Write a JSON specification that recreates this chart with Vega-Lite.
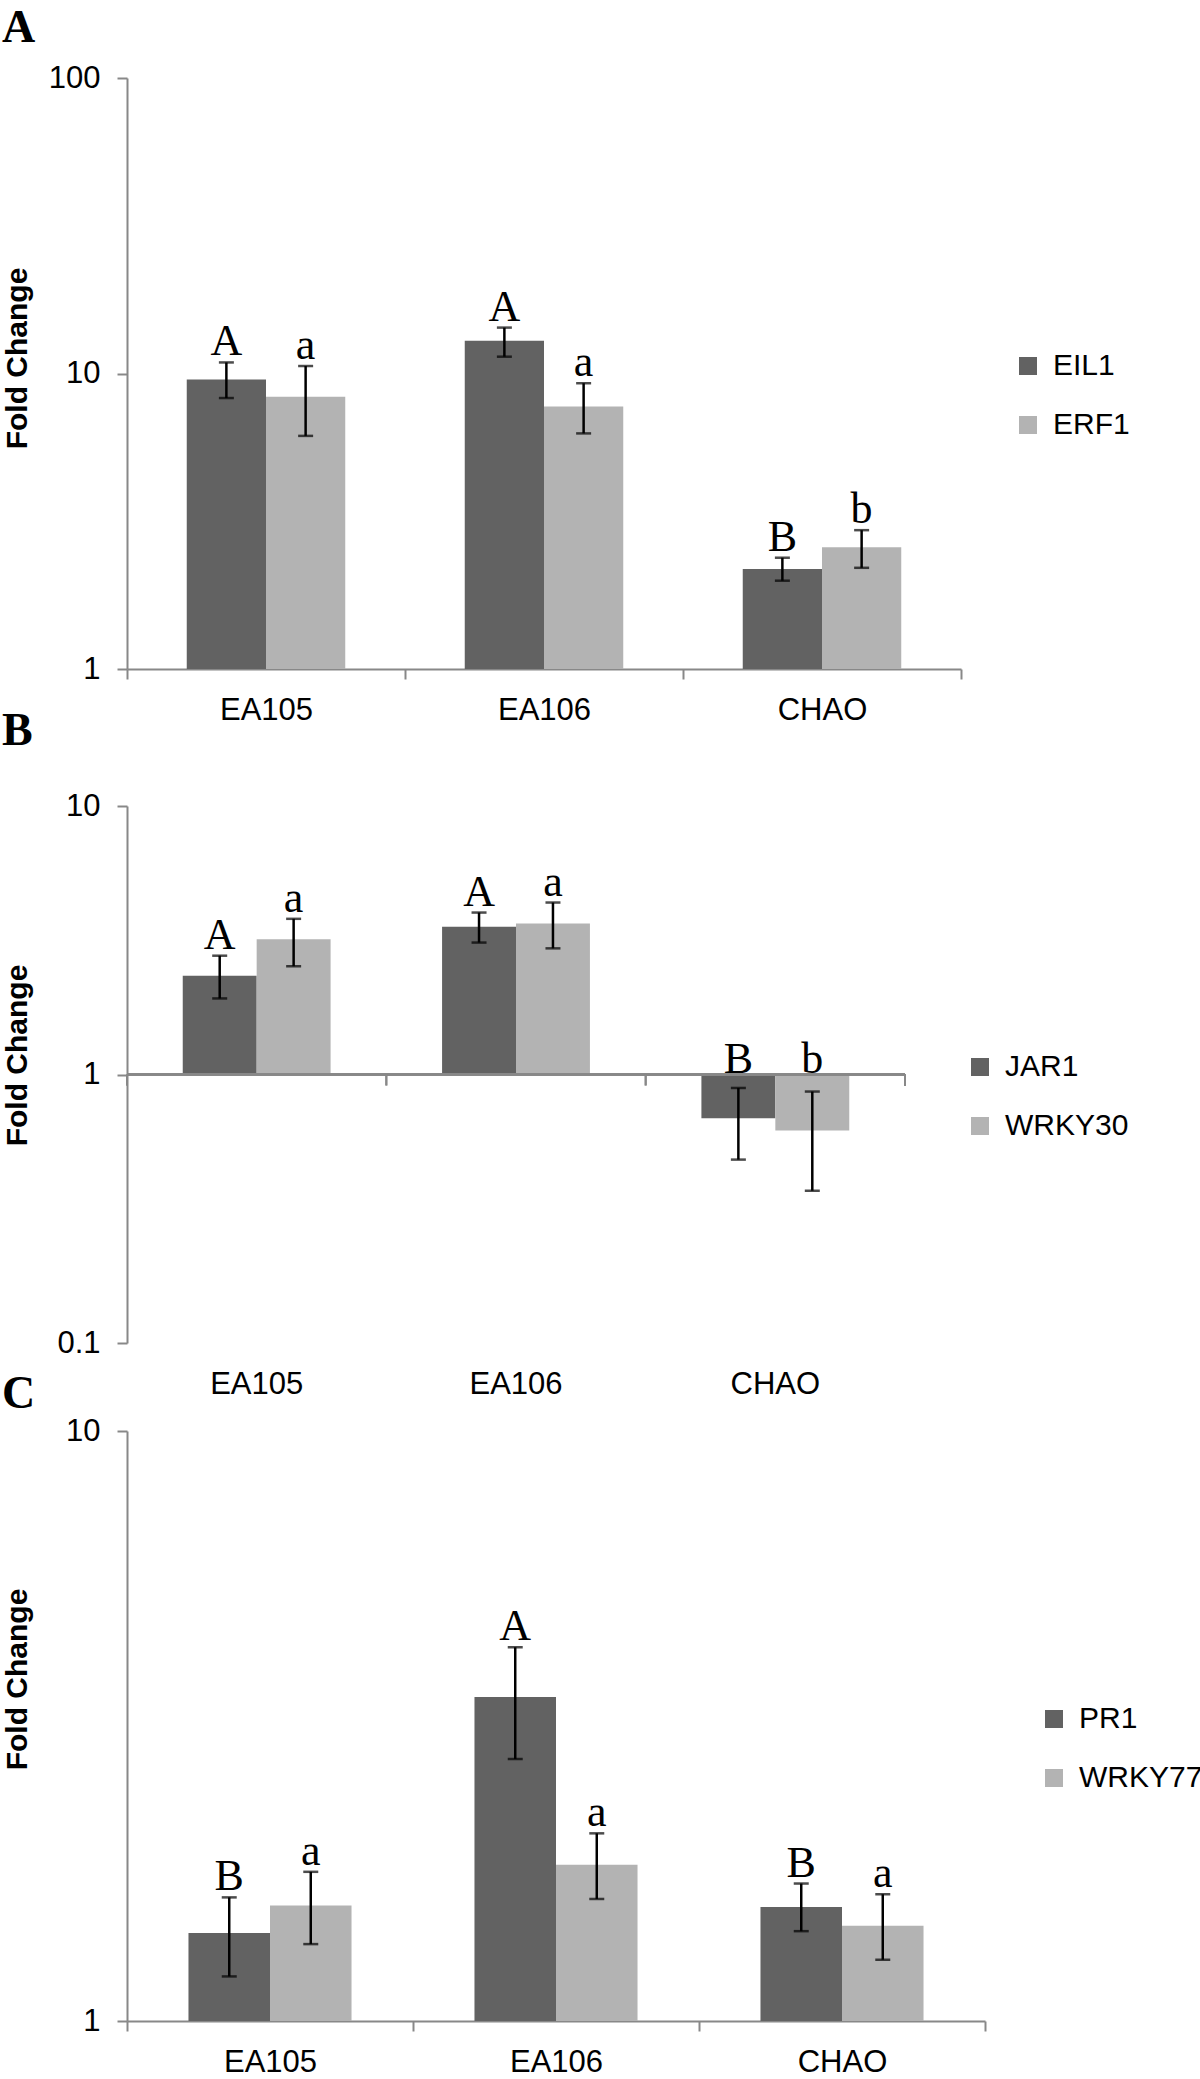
{
  "$schema": "https://vega.github.io/schema/vega-lite/v6.json",
  "padding": {"left": 2, "top": 5, "right": 0, "bottom": 0},
  "background": "white",
  "config": {
    "view": {"stroke": null},
    "font": "Liberation Sans",
    "axis": {"domainColor": "#888888", "domainWidth": 2, "tickColor": "#888888", "tickWidth": 2, "tickSize": 10, "labelFontSize": 31, "labelColor": "black", "labelFont": "Liberation Sans", "grid": false, "titleFont": "Liberation Sans", "titleFontSize": 30, "titleFontWeight": "bold", "titleColor": "black"},
    "axisY": {"labelPadding": 17},
    "axisX": {"labelPadding": 16, "labelAngle": 0},
    "legend": {"labelFontSize": 30, "labelFont": "Liberation Sans", "labelColor": "black", "symbolType": "square", "symbolSize": 324, "symbolStrokeWidth": 0, "rowPadding": 29, "labelOffset": 10, "padding": 0},
    "title": {"font": "Liberation Serif", "fontSize": 46, "fontWeight": "bold", "anchor": "start", "frame": "bounds", "color": "black"}
  },
  "datasets": {
    "A": [
      {"sample": "EA105", "gene": "EIL1", "value": 9.55, "lo": 8.26, "hi": 10.9, "letter": "A"},
      {"sample": "EA105", "gene": "ERF1", "value": 8.35, "lo": 6.15, "hi": 10.6, "letter": "a"},
      {"sample": "EA106", "gene": "EIL1", "value": 12.9, "lo": 11.4, "hi": 14.3, "letter": "A"},
      {"sample": "EA106", "gene": "ERF1", "value": 7.73, "lo": 6.27, "hi": 9.27, "letter": "a"},
      {"sample": "CHAO", "gene": "EIL1", "value": 2.18, "lo": 1.99, "hi": 2.38, "letter": "B"},
      {"sample": "CHAO", "gene": "ERF1", "value": 2.58, "lo": 2.2, "hi": 2.95, "letter": "b"}
    ],
    "B": [
      {"sample": "EA105", "gene": "JAR1", "value": 2.33, "lo": 1.92, "hi": 2.77, "letter": "A"},
      {"sample": "EA105", "gene": "WRKY30", "value": 3.19, "lo": 2.53, "hi": 3.8, "letter": "a"},
      {"sample": "EA106", "gene": "JAR1", "value": 3.55, "lo": 3.1, "hi": 4.01, "letter": "A"},
      {"sample": "EA106", "gene": "WRKY30", "value": 3.65, "lo": 2.95, "hi": 4.37, "letter": "a"},
      {"sample": "CHAO", "gene": "JAR1", "value": 0.687, "lo": 0.482, "hi": 0.891, "letter": "B"},
      {"sample": "CHAO", "gene": "WRKY30", "value": 0.619, "lo": 0.369, "hi": 0.864, "letter": "b"}
    ],
    "C": [
      {"sample": "EA105", "gene": "PR1", "value": 1.41, "lo": 1.19, "hi": 1.62, "letter": "B"},
      {"sample": "EA105", "gene": "WRKY77", "value": 1.57, "lo": 1.35, "hi": 1.79, "letter": "a"},
      {"sample": "EA106", "gene": "PR1", "value": 3.54, "lo": 2.78, "hi": 4.3, "letter": "A"},
      {"sample": "EA106", "gene": "WRKY77", "value": 1.84, "lo": 1.61, "hi": 2.08, "letter": "a"},
      {"sample": "CHAO", "gene": "PR1", "value": 1.56, "lo": 1.42, "hi": 1.71, "letter": "B"},
      {"sample": "CHAO", "gene": "WRKY77", "value": 1.45, "lo": 1.27, "hi": 1.64, "letter": "a"}
    ]
  },
  "bounds": "flush",
  "spacing": 137,
  "resolve": {"scale": {"color": "independent", "x": "independent", "y": "independent", "xOffset": "independent"}},
  "vconcat": [
    {
      "title": {"text": "A", "offset": 10},
      "width": 834,
      "height": 591,
      "data": {"name": "A"},
      "encoding": {
        "x": {"field": "sample", "type": "nominal", "title": null, "scale": {"domain": ["EA105", "EA106", "CHAO"], "paddingInner": 0, "paddingOuter": 0}, "axis": {"tickBand": "extent", "labelPadding": 16}},
        "xOffset": {"field": "gene", "type": "nominal", "scale": {"domain": ["EIL1", "ERF1"], "paddingInner": 0, "paddingOuter": 0.754}}
      },
      "layer": [
        {
          "mark": {"type": "bar"},
          "encoding": {
            "y": {"field": "value", "type": "quantitative", "scale": {"type": "log", "domain": [1, 100], "nice": false}, "axis": {"values": [1, 10, 100], "format": "~g", "title": "Fold Change", "titleX": -95, "titleY": 280}},
            "y2": {"datum": 1},
            "color": {"field": "gene", "type": "nominal", "scale": {"domain": ["EIL1", "ERF1"], "range": ["#626262", "#b3b3b3"]}, "legend": {"orient": "none", "legendX": 886, "legendY": 273, "title": null}}
          }
        },
        {"mark": {"type": "rule", "color": "black", "strokeWidth": 2.5}, "encoding": {"y": {"field": "lo", "type": "quantitative"}, "y2": {"field": "hi"}}},
        {"mark": {"type": "tick", "color": "black", "thickness": 2.5, "size": 15}, "encoding": {"y": {"field": "hi", "type": "quantitative"}}},
        {"mark": {"type": "tick", "color": "black", "thickness": 2.5, "size": 15}, "encoding": {"y": {"field": "lo", "type": "quantitative"}}},
        {"mark": {"type": "text", "font": "Liberation Serif", "fontSize": 44, "dy": -7, "baseline": "alphabetic", "color": "black"}, "encoding": {"y": {"field": "hi", "type": "quantitative"}, "text": {"field": "letter"}}}
      ]
    },
    {
      "bounds": "flush",
      "spacing": 88,
      "resolve": {"scale": {"color": "independent", "x": "independent", "y": "independent", "xOffset": "independent"}},
      "vconcat": [
        {
          "title": {"text": "B", "offset": 35},
          "width": 778,
          "height": 537,
          "data": {"name": "B"},
          "layer": [
            {
              "mark": {"type": "bar"},
              "encoding": {
                "x": {"field": "sample", "type": "nominal", "title": null, "scale": {"domain": ["EA105", "EA106", "CHAO"], "paddingInner": 0, "paddingOuter": 0}, "axis": {"domain": false, "ticks": false, "labelPadding": 26}},
                "xOffset": {"field": "gene", "type": "nominal", "scale": {"domain": ["JAR1", "WRKY30"], "paddingInner": 0, "paddingOuter": 0.754}},
                "y": {"field": "value", "type": "quantitative", "scale": {"type": "log", "domain": [0.1, 10], "nice": false}, "axis": {"values": [0.1, 1, 10], "format": "~g", "title": "Fold Change", "titleX": -95, "titleY": 249}},
                "y2": {"datum": 1},
                "color": {"field": "gene", "type": "nominal", "scale": {"domain": ["JAR1", "WRKY30"], "range": ["#626262", "#b3b3b3"]}, "legend": {"orient": "none", "legendX": 838, "legendY": 246, "title": null}}
              }
            },
            {"mark": {"type": "rule", "color": "#888888", "strokeWidth": 2}, "encoding": {"y": {"datum": 1}}},
            {"mark": {"type": "rule", "color": "#888888", "strokeWidth": 2}, "encoding": {
              "x": {"field": "sample", "type": "nominal", "bandPosition": 0, "title": null, "axis": {"domain": false, "ticks": false, "labelPadding": 26}},
              "y": {"datum": 1}, "y2": {"datum": 0.91}}},
            {"mark": {"type": "rule", "color": "#888888", "strokeWidth": 2}, "encoding": {
              "x": {"datum": "CHAO", "type": "nominal", "bandPosition": 1, "title": null, "axis": {"domain": false, "ticks": false, "labelPadding": 26}},
              "y": {"datum": 1}, "y2": {"datum": 0.91}}},
            {"mark": {"type": "rule", "color": "black", "strokeWidth": 2.5}, "encoding": {
              "x": {"field": "sample", "type": "nominal", "title": null, "axis": {"domain": false, "ticks": false, "labelPadding": 26}},
              "xOffset": {"field": "gene", "type": "nominal"},
              "y": {"field": "lo", "type": "quantitative"}, "y2": {"field": "hi"}}},
            {"mark": {"type": "tick", "color": "black", "thickness": 2.5, "size": 15}, "encoding": {
              "x": {"field": "sample", "type": "nominal", "title": null, "axis": {"domain": false, "ticks": false, "labelPadding": 26}},
              "xOffset": {"field": "gene", "type": "nominal"},
              "y": {"field": "hi", "type": "quantitative"}}},
            {"mark": {"type": "tick", "color": "black", "thickness": 2.5, "size": 15}, "encoding": {
              "x": {"field": "sample", "type": "nominal", "title": null, "axis": {"domain": false, "ticks": false, "labelPadding": 26}},
              "xOffset": {"field": "gene", "type": "nominal"},
              "y": {"field": "lo", "type": "quantitative"}}},
            {"transform": [{"filter": "datum.hi >= 1"}], "mark": {"type": "text", "font": "Liberation Serif", "fontSize": 44, "dy": -7, "baseline": "alphabetic", "color": "black"}, "encoding": {
              "x": {"field": "sample", "type": "nominal", "title": null, "axis": {"domain": false, "ticks": false, "labelPadding": 26}},
              "xOffset": {"field": "gene", "type": "nominal"},
              "y": {"field": "hi", "type": "quantitative"}, "text": {"field": "letter"}}},
            {"transform": [{"filter": "datum.hi < 1"}], "mark": {"type": "text", "font": "Liberation Serif", "fontSize": 44, "dy": -2, "baseline": "alphabetic", "color": "black"}, "encoding": {
              "x": {"field": "sample", "type": "nominal", "title": null, "axis": {"domain": false, "ticks": false, "labelPadding": 26}},
              "xOffset": {"field": "gene", "type": "nominal"},
              "y": {"datum": 1}, "text": {"field": "letter"}}}
          ]
        },
        {
          "title": {"text": "C", "offset": -3},
          "width": 858,
          "height": 590,
          "data": {"name": "C"},
          "encoding": {
            "x": {"field": "sample", "type": "nominal", "title": null, "scale": {"domain": ["EA105", "EA106", "CHAO"], "paddingInner": 0, "paddingOuter": 0}, "axis": {"tickBand": "extent", "labelPadding": 16}},
            "xOffset": {"field": "gene", "type": "nominal", "scale": {"domain": ["PR1", "WRKY77"], "paddingInner": 0, "paddingOuter": 0.754}}
          },
          "layer": [
            {
              "mark": {"type": "bar"},
              "encoding": {
                "y": {"field": "value", "type": "quantitative", "scale": {"type": "log", "domain": [1, 10], "nice": false}, "axis": {"values": [1, 10], "format": "~g", "title": "Fold Change", "titleX": -95, "titleY": 248}},
                "y2": {"datum": 1},
                "color": {"field": "gene", "type": "nominal", "scale": {"domain": ["PR1", "WRKY77"], "range": ["#626262", "#b3b3b3"]}, "legend": {"orient": "none", "legendX": 912, "legendY": 273, "title": null}}
              }
            },
            {"mark": {"type": "rule", "color": "black", "strokeWidth": 2.5}, "encoding": {"y": {"field": "lo", "type": "quantitative"}, "y2": {"field": "hi"}}},
            {"mark": {"type": "tick", "color": "black", "thickness": 2.5, "size": 15}, "encoding": {"y": {"field": "hi", "type": "quantitative"}}},
            {"mark": {"type": "tick", "color": "black", "thickness": 2.5, "size": 15}, "encoding": {"y": {"field": "lo", "type": "quantitative"}}},
            {"mark": {"type": "text", "font": "Liberation Serif", "fontSize": 44, "dy": -7, "baseline": "alphabetic", "color": "black"}, "encoding": {"y": {"field": "hi", "type": "quantitative"}, "text": {"field": "letter"}}}
          ]
        }
      ]
    }
  ]
}
